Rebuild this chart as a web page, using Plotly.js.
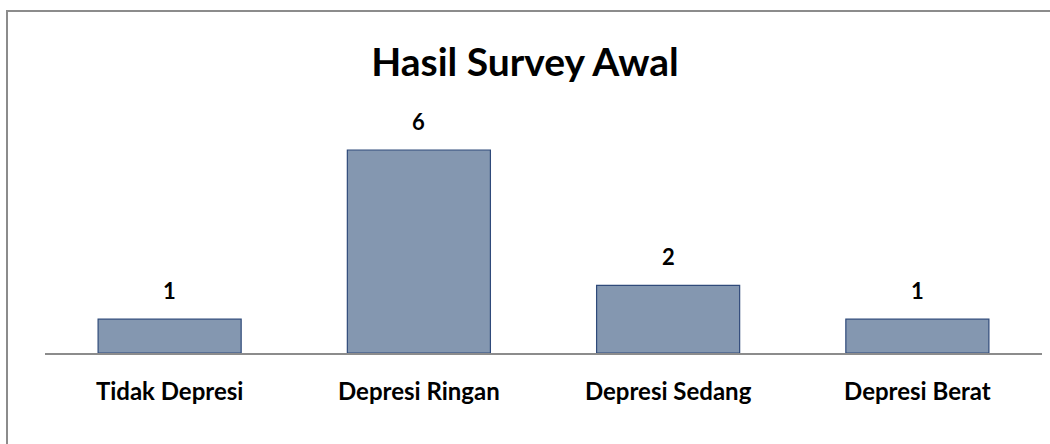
<!DOCTYPE html>
<html>
<head>
<meta charset="utf-8">
<script src="https://cdn.plot.ly/plotly-3.0.1.min.js"></script>
<style>html,body{margin:0;padding:0;background:#fff;}#chart{width:1050px;height:444px;}</style>
</head>
<body>
<div id="chart"></div>
<script>
const categories = ["Tidak Depresi", "Depresi Ringan", "Depresi Sedang", "Depresi Berat"];
const values = [1, 6, 2, 1];
const titleText = "Hasil Survey Awal";

const FONT = "Lato, 'Open Sans', sans-serif";

const trace = {
  type: "bar",
  x: categories,
  y: values,
  marker: {color: "#8497B0", line: {color: "#2F4A7A", width: 1.2}},
  hoverinfo: "x+y"
};

const annotations = categories.map((c, i) => ({
  x: c, y: values[i], xref: "x", yref: "y",
  text: "<b>" + values[i] + "</b>", showarrow: false,
  yanchor: "bottom", yshift: 13,
  font: {family: FONT, size: 22, color: "#000"}
}));

const layout = {
  width: 1050, height: 444,
  margin: {l: 45, r: 8, t: 100, b: 91},
  paper_bgcolor: "#fff", plot_bgcolor: "#fff",
  title: {text: "<b>" + titleText + "</b>", x: 0.5, xanchor: "center", y: 1 - 62/444, yanchor: "middle", yref: "container",
          font: {family: FONT, size: 39, color: "#000"}},
  bargap: 0.426,
  showlegend: false,
  xaxis: {showline: true, linecolor: "#8c8c8c", linewidth: 1.5, ticks: "", showgrid: false, zeroline: false,
          tickfont: {family: FONT, size: 24, color: "#000"}, ticklabelstandoff: 17,
          tickprefix: "<b>", ticksuffix: "</b>"},
  yaxis: {range: [0, 253/33.83], visible: false, showgrid: false, zeroline: false, fixedrange: true},
  annotations: annotations,
  shapes: [{type: "rect", xref: "paper", yref: "paper",
            x0: (7-45)/997, x1: 1.2, y0: -0.6, y1: (353-11)/253,
            line: {color: "#8c8c8c", width: 2}, fillcolor: "rgba(0,0,0,0)", layer: "below"}]
};

Plotly.newPlot("chart", [trace], layout, {displayModeBar: false, staticPlot: true});
</script>
</body>
</html>
